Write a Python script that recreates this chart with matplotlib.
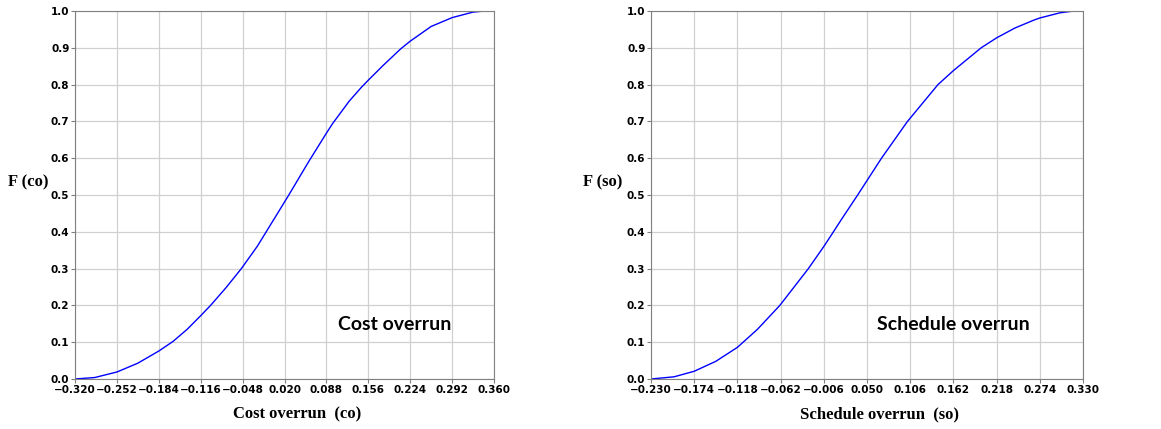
import matplotlib.pyplot as plt
import numpy as np

# Cost overrun CDF
co_x = [-0.320, -0.288, -0.252, -0.218, -0.184, -0.161, -0.138, -0.116, -0.100,
        -0.075, -0.050, -0.024, 0.0105, 0.027, 0.059, 0.088, 0.098, 0.125,
        0.145, 0.156, 0.180, 0.2085, 0.224, 0.258, 0.292, 0.326, 0.345, 0.360]
co_F = [0.0, 0.004, 0.019, 0.043, 0.076, 0.102, 0.135, 0.172, 0.200,
        0.248, 0.300, 0.361, 0.455, 0.500, 0.590, 0.668, 0.694, 0.755,
        0.793, 0.812, 0.852, 0.897, 0.918, 0.958, 0.982, 0.997, 1.0, 1.0]

# Schedule overrun CDF
so_x = [-0.230, -0.200, -0.174, -0.146, -0.118, -0.092, -0.063, -0.026,
        -0.006, 0.0068, 0.0173, 0.0379, 0.0688, 0.1025, 0.142, 0.162, 0.198,
        0.218, 0.242, 0.266, 0.274, 0.300, 0.318, 0.330]
so_F = [0.0, 0.006, 0.021, 0.048, 0.086, 0.135, 0.200, 0.300,
        0.360, 0.401, 0.435, 0.500, 0.600, 0.700, 0.800, 0.838, 0.900,
        0.927, 0.954, 0.975, 0.981, 0.995, 1.0, 1.0]

co_ticks = np.round(np.arange(-0.320, 0.361, 0.068), 3)
so_ticks = np.round(np.arange(-0.230, 0.331, 0.056), 3)

fig = plt.figure(figsize=(11.61, 4.29), dpi=100)
ax1 = fig.add_axes([75/1161, 50/429, 419/1161, 368/429])
ax2 = fig.add_axes([651/1161, 50/429, 432/1161, 368/429])

panels = [
    (ax1, co_x, co_F, co_ticks, 'Cost overrun  (co)', 'F (co)', 'Cost overrun', 0.628),
    (ax2, so_x, so_F, so_ticks, 'Schedule overrun  (so)', 'F (so)', 'Schedule overrun', 0.523),
]

for ax, x, F, ticks, xl, yl, name, tx in panels:
    ax.plot(x, F, color='blue', lw=1.0)
    ax.set_xlim(ticks[0], ticks[-1])
    ax.set_ylim(0, 1)
    ax.set_xticks(ticks)
    ax.set_xticklabels(['%.3f' % t if t >= 0 else '\u2212%.3f' % abs(t) for t in ticks])
    ax.set_yticks(np.round(np.arange(0, 1.01, 0.1), 1))
    ax.grid(True, color='#d0d0d0', lw=0.9)
    for s in ax.spines.values():
        s.set_color('#808080')
    ax.tick_params(colors='#808080', labelcolor='black', length=3, pad=1)
    for lab in ax.get_xticklabels() + ax.get_yticklabels():
        lab.set_fontweight('bold')
        lab.set_fontsize(7.5)
    ax.set_xlabel(xl, family='Liberation Serif', fontweight='bold', fontsize=12)
    ax.xaxis.set_label_coords(0.53, -0.075)
    ax.set_ylabel(yl, family='Liberation Serif', fontweight='bold', fontsize=12,
                  rotation=0, va='center')
    ax.yaxis.set_label_coords(-0.112, 0.535)
    ax.text(tx, 0.147, name, transform=ax.transAxes, family='Lato',
            fontweight='bold', fontsize=14, va='center', ha='left')

fig.savefig('out.png', dpi=100)
